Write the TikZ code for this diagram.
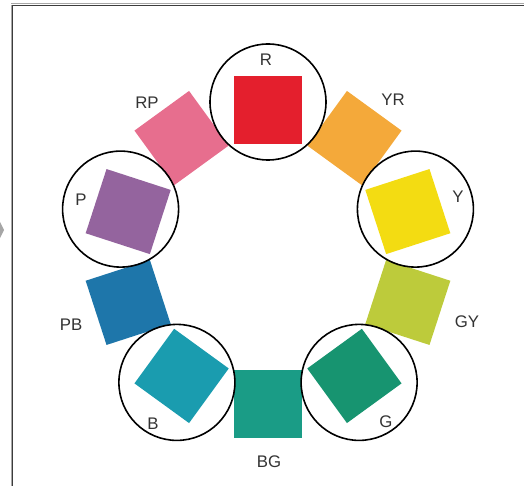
\documentclass[tikz,border=0pt]{standalone}
\usepackage{fontspec}
\setmainfont{Liberation Sans}
\usetikzlibrary{calc}
\definecolor{cR}{HTML}{E41F2D}
\definecolor{cYR}{HTML}{F4A93A}
\definecolor{cY}{HTML}{F3DC12}
\definecolor{cGY}{HTML}{BDCB3B}
\definecolor{cG}{HTML}{179470}
\definecolor{cBG}{HTML}{1A9C86}
\definecolor{cB}{HTML}{1A9CAF}
\definecolor{cPB}{HTML}{1E76AA}
\definecolor{cP}{HTML}{94649E}
\definecolor{cRP}{HTML}{E76E8E}
\definecolor{txt}{HTML}{333333}
\definecolor{framedark}{HTML}{3C3C3C}
\definecolor{framelight}{HTML}{A8A8A8}
\tikzset{
  chip/.style={rectangle, minimum size=67.5pt, inner sep=0pt, draw=none},
  ring/.style={circle, minimum size=116pt, inner sep=0pt, draw=black, line width=1.6pt},
  lab/.style={font=\fontsize{16.8}{18}\selectfont, text=txt, inner sep=0pt}
}
\begin{document}
\begin{tikzpicture}[x=1pt,y=-1pt]
\useasboundingbox (0,0) rectangle (524,486);
% frame
\draw[framelight, line width=1pt] (11,4) -- (524,4);
\draw[framedark, line width=1.1pt] (12,5.2) -- (524,5.2);
\draw[framelight, line width=1pt] (11,5) -- (11,486);
\draw[framedark, line width=1.1pt] (12.2,5) -- (12.2,486);
\fill[gray!70] (0,222) -- (4,230) -- (0,238) -- (-4,230) -- cycle;
\coordinate (C) at (268,257);
% colour chips
\node[chip, fill=cR,  rotate=0]   (sR)  at ($(C)+(270:147)$) {};
\node[chip, fill=cYR, rotate=-36] (sYR) at ($(C)+(306:147)$) {};
\node[chip, fill=cY,  rotate=-72] (sY)  at ($(C)+(342:147)$) {};
\node[chip, fill=cGY, rotate=-108] (sGY) at ($(C)+(18:147)$) {};
\node[chip, fill=cG,  rotate=-144] (sG)  at ($(C)+(54:147)$) {};
\node[chip, fill=cBG, rotate=0]   (sBG) at ($(C)+(90:147)$) {};
\node[chip, fill=cB,  rotate=144]  (sB)  at ($(C)+(126:147)$) {};
\node[chip, fill=cPB, rotate=108]  (sPB) at ($(C)+(162:147)$) {};
\node[chip, fill=cP,  rotate=72]   (sP)  at ($(C)+(198:147)$) {};
\node[chip, fill=cRP, rotate=36]   (sRP) at ($(C)+(234:147)$) {};
% rings
\node[ring] (rR) at ($(C)+(270:155)$) {};
\node[ring] (rY) at ($(C)+(342:155)$) {};
\node[ring] (rG) at ($(C)+(54:155)$) {};
\node[ring] (rB) at ($(C)+(126:155)$) {};
\node[ring] (rP) at ($(C)+(198:155)$) {};
% labels
\node[lab] (lR)  at (266,60)  {R};
\node[lab] (lYR) at (393,100) {YR};
\node[lab] (lY)  at (458,197) {Y};
\node[lab] (lGY) at (467,322) {GY};
\node[lab] (lG)  at (386,422) {G};
\node[lab] (lBG) at (269,462) {BG};
\node[lab] (lB)  at (153,424) {B};
\node[lab] (lPB) at (71,325)  {PB};
\node[lab] (lP)  at (81,200)  {P};
\node[lab] (lRP) at (147,103) {RP};
\end{tikzpicture}
\end{document}
